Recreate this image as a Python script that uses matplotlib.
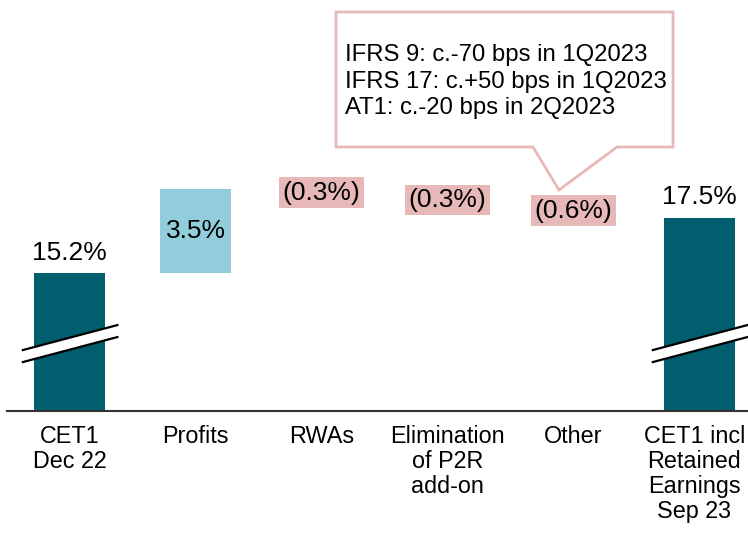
import numpy as np
import matplotlib
matplotlib.use("Agg")
import matplotlib.pyplot as plt
from matplotlib.patches import Polygon
from matplotlib.transforms import ScaledTranslation

plt.rcParams['font.family'] = ['Liberation Sans', 'DejaVu Sans']

# data
categories = ["CET1\nDec 22", "Profits", "RWAs", "Elimination\nof P2R\nadd-on",
              "Other", "CET1 incl\nRetained\nEarnings\nSep 23"]
start_value = 15.2
deltas = [3.5, -0.3, -0.3, -0.6]
end_value = 17.5
callout_lines = ["IFRS 9: c.-70 bps in 1Q2023",
                 "IFRS 17: c.+50 bps in 1Q2023",
                 "AT1: c.-20 bps in 2Q2023"]

TEAL = "#005E6E"
LIGHT_BLUE = "#92CDDC"
PINK = "#E6B9B8"
BREAK = 9.45  # axis is broken, bars start at this value

fig = plt.figure(figsize=(7.48, 5.47), dpi=100)
ax = fig.add_axes([7 / 748, 136 / 547, 741 / 748, 411 / 547])

x = np.arange(len(categories))
w = 0.563

# totals
ax.bar([0, 5], [start_value - BREAK, end_value - BREAK], width=w, color=TEAL)
ax.text(0, start_value - BREAK + 0.35, f"{start_value:.1f}%", ha="center", va="bottom", fontsize=19)
ax.text(5, end_value - BREAK + 0.35, f"{end_value:.1f}%", ha="center", va="bottom", fontsize=19)

# steps
level = start_value
for i, d in enumerate(deltas, start=1):
    lo = min(level, level + d) - BREAK
    if d > 0:
        ax.bar(i, d, bottom=lo, width=w, color=LIGHT_BLUE)
        ax.text(i, lo + d / 2, f"{d:.1f}%", ha="center", va="center", fontsize=19)
    else:
        ax.bar(i, -d, bottom=lo, width=w, color=PINK)
        ax.text(i, lo - d / 2, f"({-d:.1f}%)", ha="center", va="center", fontsize=19,
                bbox=dict(boxstyle="square,pad=0.12", fc=PINK, ec="none"))
    level += d

# axis break marks
for c in [0, 5]:
    x0, x1 = c - 0.37, c + 0.38
    y0, y1, gap = 2.54, 3.58, 0.5
    ax.add_patch(Polygon([[x0, y0], [x1, y1], [x1, y1 - gap], [x0, y0 - gap]],
                         closed=True, fc="white", ec="none", zorder=3, clip_on=False))
    ax.plot([x0, x1], [y0, y1], color="black", lw=1.6, zorder=4, clip_on=False)
    ax.plot([x0, x1], [y0 - gap, y1 - gap], color="black", lw=1.6, zorder=4, clip_on=False)

ax.set_xlim(-0.496, 5.385)
ax.set_ylim(0, 17.125)
ax.set_xticks(x)
ax.set_xticklabels(categories, fontsize=16.8, linespacing=1.12)
ax.tick_params(axis="x", length=0, pad=10)
# nudge the last label so it stays inside the figure
last = ax.get_xticklabels()[-1]
last.set_transform(last.get_transform() + ScaledTranslation(-5 / 100, 0, fig.dpi_scale_trans))
ax.set_yticks([])
for s in ["left", "right", "top"]:
    ax.spines[s].set_visible(False)
ax.spines["bottom"].set_linewidth(1.5)
ax.spines["bottom"].set_color("#333333")

# callout box (figure pixel coords, y from top)
def fp(px, py):
    return (px / 748, 1 - py / 547)

pts = [fp(336, 12), fp(673, 12), fp(673, 147), fp(617, 147), fp(559, 190),
       fp(533, 147), fp(336, 147)]
fig.add_artist(Polygon(pts, closed=True, fc="white", ec=PINK, lw=2,
                       transform=fig.transFigure))
fig.text(345 / 748, 1 - 44 / 547, "\n".join(callout_lines), fontsize=17.2,
         va="top", ha="left", linespacing=1.27)

fig.savefig("out.png", dpi=100)
